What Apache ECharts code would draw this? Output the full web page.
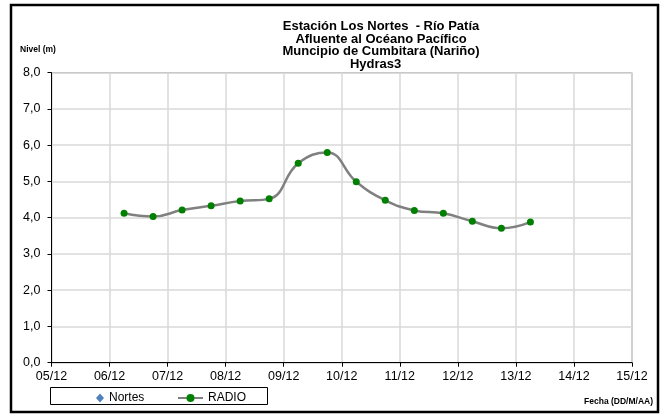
<!DOCTYPE html>
<html>
<head>
<meta charset="utf-8">
<script src="https://cdn.jsdelivr.net/npm/echarts@6/dist/echarts.min.js"></script>
<style>html,body{margin:0;padding:0;background:#fff}#c{width:662px;height:415px}</style>
</head>
<body>
<div id="c"></div>
<script>
// Fechas (DD/MM HH:mm) de las lecturas
var fechas = ['06/12 06:00','06/12 18:00','07/12 06:00','07/12 18:00','08/12 06:00','08/12 18:00',
  '09/12 06:00','09/12 18:00','10/12 06:00','10/12 18:00','11/12 06:00','11/12 18:00',
  '12/12 06:00','12/12 18:00','13/12 06:00'];
// Nivel (m) RADIO
var radio = [4.12, 4.03, 4.21, 4.33, 4.46, 4.52, 5.50, 5.80, 4.99, 4.48, 4.20, 4.12, 3.90, 3.71, 3.88];
// Nortes: sin datos
var nortes = [];
// Eje X: días de diciembre
var diaMin = 5, diaMax = 15;
var tituloLineas = ['Estación Los Nortes  - Río Patía','Afluente al Océano Pacífico','Muncipio de Cumbitara (Nariño)','Hydras3   '];

function toDay(s){
  var p = s.split(' '); var d = parseInt(p[0].split('/')[0],10);
  var hm = p[1].split(':'); return d + (parseInt(hm[0],10) + parseInt(hm[1],10)/60)/24;
}
var radioData = fechas.map(function(f,i){ return [toDay(f), radio[i]]; });

var chart = echarts.init(document.getElementById('c'), null, {renderer:'canvas'});
var font = 'Arial, "Liberation Sans", sans-serif';
chart.setOption({
  animation:false,
  backgroundColor:'#fff',
  title:{
    text: tituloLineas.join('\n'),
    left: 376, top: 15, textAlign:'center',
    textStyle:{fontFamily:font, fontWeight:'bold', fontSize:13, lineHeight:12.7, color:'#000'}
  },
  grid:{left:51.5, right:30, top:72.7, bottom:52.3, show:true, borderColor:'#808080', borderWidth:1, backgroundColor:'#fff'},
  xAxis:{
    type:'value', min:diaMin, max:diaMax, interval:1,
    axisLine:{show:true, lineStyle:{color:'#000', width:1}},
    axisTick:{show:true, length:4, lineStyle:{color:'#000'}},
    axisLabel:{color:'#000', fontFamily:font, fontSize:12.5, margin:7,
      formatter:function(v){ return (v<10?'0':'')+v+'/12'; }},
    splitLine:{show:true, lineStyle:{color:'#d9d9d9', width:1.5}}
  },
  yAxis:{
    type:'value', min:0, max:8, interval:1,
    axisLine:{show:true, lineStyle:{color:'#000', width:1}},
    axisTick:{show:true, length:4, lineStyle:{color:'#000'}},
    axisLabel:{color:'#000', fontFamily:font, fontSize:12.5, margin:11,
      formatter:function(v){ return v.toFixed(1).replace('.',','); }},
    splitLine:{show:true, lineStyle:{color:'#d9d9d9', width:1.5}}
  },
  legend:[{
    data:[{name:'Nortes', icon:'diamond'}],
    left:91, top:387, itemWidth:8, itemHeight:9, itemGap:5,
    textStyle:{fontFamily:font, fontSize:12, color:'#000'}
  },{
    data:[{name:'RADIO'}],
    left:172, top:387, itemWidth:25, itemHeight:10,
    textStyle:{fontFamily:font, fontSize:12, color:'#000'}
  }],
  graphic:[
    {type:'rect', shape:{x:11, y:5, width:647, height:407}, style:{fill:null, stroke:'#000', lineWidth:2.5}, silent:true, z:-1},
    {type:'rect', shape:{x:50.5, y:387.5, width:217, height:17}, style:{fill:null, stroke:'#000', lineWidth:1}, silent:true},
    {type:'text', left:20, top:45, style:{text:'Nivel (m)', font:'bold 8.5px Arial', fill:'#000'}},
    {type:'text', right:9, top:397, style:{text:'Fecha (DD/M/AA)', font:'bold 8.5px Arial', fill:'#000'}}
  ],
  series:[
    {name:'Nortes', type:'line', data:nortes, symbol:'diamond', symbolSize:8,
      itemStyle:{color:'#4F81BD'}, lineStyle:{width:0}},
    {name:'RADIO', type:'line', data:radioData, smooth:0.45, symbol:'circle', symbolSize:7, showSymbol:true,
      lineStyle:{color:'#808080', width:2.5}, itemStyle:{color:'#008000', borderWidth:0}, z:3}
  ]
});
</script>
</body>
</html>
